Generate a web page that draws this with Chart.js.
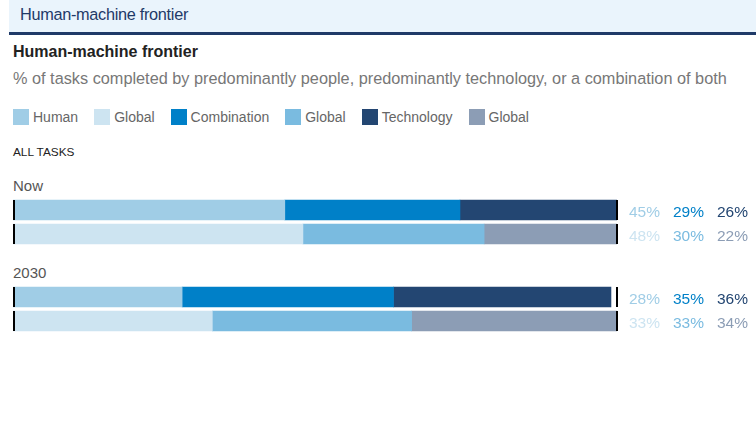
<!DOCTYPE html>
<html>
<head>
<meta charset="utf-8">
<script src="https://cdn.jsdelivr.net/npm/chart.js@4.4.1/dist/chart.umd.min.js"></script>
<style>
  body { margin: 0; width: 756px; height: 436px; background: #fff; font-family: "Liberation Sans", Arial, sans-serif; position: relative; overflow: hidden; }
  .band { position: absolute; left: 9px; top: 0; width: 747px; height: 32px; background: #eaf4fc; border-bottom: 3px solid #1f3a68; }
  .band span { position: absolute; left: 11px; top: 5px; font-size: 16.3px; color: #1f3a68; letter-spacing: -0.3px; }
  .title { position: absolute; left: 13px; top: 43px; font-size: 16px; font-weight: bold; color: #222; }
  .sub { position: absolute; left: 13px; top: 69px; font-size: 16.3px; color: #777; }
  .legend { position: absolute; left: 13px; top: 109px; font-size: 14px; color: #666; display: flex; }
  .legend div { display: flex; align-items: center; margin-right: 16px; }
  .legend i { display: inline-block; width: 16px; height: 16px; margin-right: 4px; }
  .tasks { position: absolute; left: 13px; top: 145px; font-size: 11.8px; color: #222; }
  .grp { position: absolute; left: 13px; font-size: 15px; color: #555; }
  canvas { position: absolute; left: 0; }
</style>
</head>
<body>
<div class="band"><span>Human-machine frontier</span></div>
<div class="title">Human-machine frontier</div>
<div class="sub">% of tasks completed by predominantly people, predominantly technology, or a combination of both</div>
<div class="legend" id="legend"></div>
<div class="tasks">ALL TASKS</div>
<div class="grp" style="top:177px">Now</div>
<div class="grp" style="top:264px">2030</div>
<div style="position:absolute;left:0;top:198px;width:756px;height:48px"><canvas id="nowChart"></canvas></div>
<div style="position:absolute;left:0;top:285px;width:756px;height:48px"><canvas id="futureChart"></canvas></div>
<script>
const rows = ['Selected', 'Global'];
const parts = ['Human', 'Combination', 'Technology'];
const nowValues = { Human: [45, 48], Combination: [29, 30], Technology: [26, 22] };
const futureValues = { Human: [28, 33], Combination: [35, 33], Technology: [36, 34] };
const legendLabels = ['Human', 'Global', 'Combination', 'Global', 'Technology', 'Global'];

// colour per part: [selected row, global row]
const colors = {
    Human: ['#a0cde6', '#cde4f1'],
    Combination: ['#0080c8', '#7abbe0'],
    Technology: ['#234672', '#8c9db5']
};
const legendColors = ['#a0cde6', '#cde4f1', '#0080c8', '#7abbe0', '#234672', '#8c9db5'];

const legend = document.getElementById('legend');
legendLabels.forEach(function (label, i) {
    legend.innerHTML += `<div><i style="background:${legendColors[i]}"></i>${label}</div>`;
});

// draws the black end markers and the percentage labels
const rowDecor = {
    id: 'rowDecor',
    afterDatasetsDraw(chart) {
        const ctx = chart.ctx;
        const x = chart.scales.x;
        const y = chart.scales.y;
        ctx.save();
        rows.forEach(function (row, r) {
            const cy = y.getPixelForValue(r);
            ctx.fillStyle = '#000';
            ctx.fillRect(x.getPixelForValue(0), cy - 10, 2, 20);
            ctx.fillRect(x.getPixelForValue(100) - 1, cy - 10, 2, 20);
            ctx.font = '15.5px "Liberation Sans", Arial, sans-serif';
            ctx.textBaseline = 'middle';
            chart.data.datasets.forEach(function (ds, d) {
                ctx.fillStyle = ds.backgroundColor[r];
                ctx.fillText(ds.data[r] + '%', x.right + 12 + d * 44, cy + 3);
            });
        });
        ctx.restore();
    }
};

function makeChart(id, values) {
    new Chart(document.getElementById(id), {
        type: 'bar',
        data: {
            labels: rows,
            datasets: parts.map(function (p) {
                return { label: p, data: values[p], backgroundColor: colors[p], barThickness: 20 };
            })
        },
        options: {
            indexAxis: 'y',
            responsive: true,
            maintainAspectRatio: false,
            animation: false,
            layout: { padding: { left: 13, right: 139, top: 0, bottom: 0 } },
            scales: {
                x: { stacked: true, min: 0, max: 100, display: false },
                y: { stacked: true, display: false }
            },
            plugins: { legend: { display: false }, tooltip: { enabled: false } }
        },
        plugins: [rowDecor]
    });
}

makeChart('nowChart', nowValues);
makeChart('futureChart', futureValues);
</script>
</body>
</html>
